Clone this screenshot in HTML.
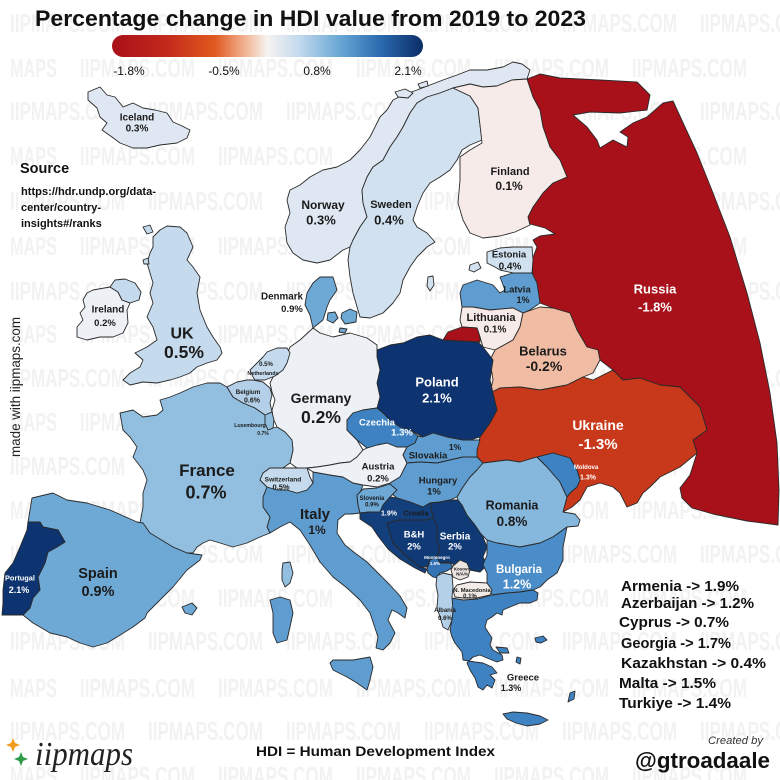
<!DOCTYPE html>
<html><head><meta charset="utf-8"><style>
html,body{margin:0;padding:0;background:#fff}
svg{display:block}
.l{font-family:"Liberation Sans",sans-serif;font-weight:bold;text-anchor:middle;fill:#1b1b1b}
.w{fill:#fff}
.wm{font-family:"Liberation Sans Narrow","Liberation Sans",sans-serif;font-weight:bold;font-size:26px;fill:#f2f2f2}
.c path,.c polygon{stroke:#2a2a2a;stroke-width:0.9;stroke-linejoin:round}
</style></head><body>
<svg width="780" height="780" viewBox="0 0 780 780" xmlns="http://www.w3.org/2000/svg">
<defs>
<linearGradient id="cb" x1="0" x2="1" y1="0" y2="0">
<stop offset="0" stop-color="#a8101a"/><stop offset="0.18" stop-color="#c42a1b"/><stop offset="0.33" stop-color="#e0591f"/><stop offset="0.43" stop-color="#f2b596"/><stop offset="0.5" stop-color="#f6f3f0"/><stop offset="0.6" stop-color="#c4daee"/><stop offset="0.73" stop-color="#6aa8d5"/><stop offset="0.86" stop-color="#2b6cb0"/><stop offset="1" stop-color="#0b2d67"/>
</linearGradient>
</defs>
<rect width="780" height="780" fill="#fff"/>
<!-- watermarks -->
<g class="wm">
<text x="10" y="32" textLength="115" lengthAdjust="spacingAndGlyphs">IIPMAPS.COM</text><text x="148" y="32" textLength="115" lengthAdjust="spacingAndGlyphs">IIPMAPS.COM</text><text x="286" y="32" textLength="115" lengthAdjust="spacingAndGlyphs">IIPMAPS.COM</text><text x="424" y="32" textLength="115" lengthAdjust="spacingAndGlyphs">IIPMAPS.COM</text><text x="562" y="32" textLength="115" lengthAdjust="spacingAndGlyphs">IIPMAPS.COM</text><text x="700" y="32" textLength="115" lengthAdjust="spacingAndGlyphs">IIPMAPS.COM</text>
<text x="10" y="77" textLength="47" lengthAdjust="spacingAndGlyphs">MAPS</text><text x="80" y="77" textLength="115" lengthAdjust="spacingAndGlyphs">IIPMAPS.COM</text><text x="218" y="77" textLength="115" lengthAdjust="spacingAndGlyphs">IIPMAPS.COM</text><text x="356" y="77" textLength="115" lengthAdjust="spacingAndGlyphs">IIPMAPS.COM</text><text x="494" y="77" textLength="115" lengthAdjust="spacingAndGlyphs">IIPMAPS.COM</text><text x="632" y="77" textLength="115" lengthAdjust="spacingAndGlyphs">IIPMAPS.COM</text>
<text x="10" y="120" textLength="115" lengthAdjust="spacingAndGlyphs">IIPMAPS.COM</text><text x="148" y="120" textLength="115" lengthAdjust="spacingAndGlyphs">IIPMAPS.COM</text><text x="286" y="120" textLength="115" lengthAdjust="spacingAndGlyphs">IIPMAPS.COM</text><text x="424" y="120" textLength="115" lengthAdjust="spacingAndGlyphs">IIPMAPS.COM</text><text x="562" y="120" textLength="115" lengthAdjust="spacingAndGlyphs">IIPMAPS.COM</text><text x="700" y="120" textLength="115" lengthAdjust="spacingAndGlyphs">IIPMAPS.COM</text>
<text x="10" y="165" textLength="47" lengthAdjust="spacingAndGlyphs">MAPS</text><text x="80" y="165" textLength="115" lengthAdjust="spacingAndGlyphs">IIPMAPS.COM</text><text x="218" y="165" textLength="115" lengthAdjust="spacingAndGlyphs">IIPMAPS.COM</text><text x="356" y="165" textLength="115" lengthAdjust="spacingAndGlyphs">IIPMAPS.COM</text><text x="494" y="165" textLength="115" lengthAdjust="spacingAndGlyphs">IIPMAPS.COM</text><text x="632" y="165" textLength="115" lengthAdjust="spacingAndGlyphs">IIPMAPS.COM</text>
<text x="10" y="210" textLength="115" lengthAdjust="spacingAndGlyphs">IIPMAPS.COM</text><text x="148" y="210" textLength="115" lengthAdjust="spacingAndGlyphs">IIPMAPS.COM</text><text x="286" y="210" textLength="115" lengthAdjust="spacingAndGlyphs">IIPMAPS.COM</text><text x="424" y="210" textLength="115" lengthAdjust="spacingAndGlyphs">IIPMAPS.COM</text><text x="562" y="210" textLength="115" lengthAdjust="spacingAndGlyphs">IIPMAPS.COM</text><text x="700" y="210" textLength="115" lengthAdjust="spacingAndGlyphs">IIPMAPS.COM</text>
<text x="10" y="255" textLength="47" lengthAdjust="spacingAndGlyphs">MAPS</text><text x="80" y="255" textLength="115" lengthAdjust="spacingAndGlyphs">IIPMAPS.COM</text><text x="218" y="255" textLength="115" lengthAdjust="spacingAndGlyphs">IIPMAPS.COM</text><text x="356" y="255" textLength="115" lengthAdjust="spacingAndGlyphs">IIPMAPS.COM</text><text x="494" y="255" textLength="115" lengthAdjust="spacingAndGlyphs">IIPMAPS.COM</text><text x="632" y="255" textLength="115" lengthAdjust="spacingAndGlyphs">IIPMAPS.COM</text>
<text x="10" y="300" textLength="115" lengthAdjust="spacingAndGlyphs">IIPMAPS.COM</text><text x="148" y="300" textLength="115" lengthAdjust="spacingAndGlyphs">IIPMAPS.COM</text><text x="286" y="300" textLength="115" lengthAdjust="spacingAndGlyphs">IIPMAPS.COM</text><text x="424" y="300" textLength="115" lengthAdjust="spacingAndGlyphs">IIPMAPS.COM</text><text x="562" y="300" textLength="115" lengthAdjust="spacingAndGlyphs">IIPMAPS.COM</text><text x="700" y="300" textLength="115" lengthAdjust="spacingAndGlyphs">IIPMAPS.COM</text>
<text x="10" y="343" textLength="47" lengthAdjust="spacingAndGlyphs">MAPS</text><text x="80" y="343" textLength="115" lengthAdjust="spacingAndGlyphs">IIPMAPS.COM</text><text x="218" y="343" textLength="115" lengthAdjust="spacingAndGlyphs">IIPMAPS.COM</text><text x="356" y="343" textLength="115" lengthAdjust="spacingAndGlyphs">IIPMAPS.COM</text><text x="494" y="343" textLength="115" lengthAdjust="spacingAndGlyphs">IIPMAPS.COM</text><text x="632" y="343" textLength="115" lengthAdjust="spacingAndGlyphs">IIPMAPS.COM</text>
<text x="10" y="387" textLength="115" lengthAdjust="spacingAndGlyphs">IIPMAPS.COM</text><text x="148" y="387" textLength="115" lengthAdjust="spacingAndGlyphs">IIPMAPS.COM</text><text x="286" y="387" textLength="115" lengthAdjust="spacingAndGlyphs">IIPMAPS.COM</text><text x="424" y="387" textLength="115" lengthAdjust="spacingAndGlyphs">IIPMAPS.COM</text><text x="562" y="387" textLength="115" lengthAdjust="spacingAndGlyphs">IIPMAPS.COM</text><text x="700" y="387" textLength="115" lengthAdjust="spacingAndGlyphs">IIPMAPS.COM</text>
<text x="10" y="431" textLength="47" lengthAdjust="spacingAndGlyphs">MAPS</text><text x="80" y="431" textLength="115" lengthAdjust="spacingAndGlyphs">IIPMAPS.COM</text><text x="218" y="431" textLength="115" lengthAdjust="spacingAndGlyphs">IIPMAPS.COM</text><text x="356" y="431" textLength="115" lengthAdjust="spacingAndGlyphs">IIPMAPS.COM</text><text x="494" y="431" textLength="115" lengthAdjust="spacingAndGlyphs">IIPMAPS.COM</text><text x="632" y="431" textLength="115" lengthAdjust="spacingAndGlyphs">IIPMAPS.COM</text>
<text x="10" y="475" textLength="115" lengthAdjust="spacingAndGlyphs">IIPMAPS.COM</text><text x="148" y="475" textLength="115" lengthAdjust="spacingAndGlyphs">IIPMAPS.COM</text><text x="286" y="475" textLength="115" lengthAdjust="spacingAndGlyphs">IIPMAPS.COM</text><text x="424" y="475" textLength="115" lengthAdjust="spacingAndGlyphs">IIPMAPS.COM</text><text x="562" y="475" textLength="115" lengthAdjust="spacingAndGlyphs">IIPMAPS.COM</text><text x="700" y="475" textLength="115" lengthAdjust="spacingAndGlyphs">IIPMAPS.COM</text>
<text x="10" y="519" textLength="47" lengthAdjust="spacingAndGlyphs">MAPS</text><text x="80" y="519" textLength="115" lengthAdjust="spacingAndGlyphs">IIPMAPS.COM</text><text x="218" y="519" textLength="115" lengthAdjust="spacingAndGlyphs">IIPMAPS.COM</text><text x="356" y="519" textLength="115" lengthAdjust="spacingAndGlyphs">IIPMAPS.COM</text><text x="494" y="519" textLength="115" lengthAdjust="spacingAndGlyphs">IIPMAPS.COM</text><text x="632" y="519" textLength="115" lengthAdjust="spacingAndGlyphs">IIPMAPS.COM</text>
<text x="10" y="563" textLength="115" lengthAdjust="spacingAndGlyphs">IIPMAPS.COM</text><text x="148" y="563" textLength="115" lengthAdjust="spacingAndGlyphs">IIPMAPS.COM</text><text x="286" y="563" textLength="115" lengthAdjust="spacingAndGlyphs">IIPMAPS.COM</text><text x="424" y="563" textLength="115" lengthAdjust="spacingAndGlyphs">IIPMAPS.COM</text><text x="562" y="563" textLength="115" lengthAdjust="spacingAndGlyphs">IIPMAPS.COM</text><text x="700" y="563" textLength="115" lengthAdjust="spacingAndGlyphs">IIPMAPS.COM</text>
<text x="10" y="607" textLength="47" lengthAdjust="spacingAndGlyphs">MAPS</text><text x="80" y="607" textLength="115" lengthAdjust="spacingAndGlyphs">IIPMAPS.COM</text><text x="218" y="607" textLength="115" lengthAdjust="spacingAndGlyphs">IIPMAPS.COM</text><text x="356" y="607" textLength="115" lengthAdjust="spacingAndGlyphs">IIPMAPS.COM</text><text x="494" y="607" textLength="115" lengthAdjust="spacingAndGlyphs">IIPMAPS.COM</text><text x="632" y="607" textLength="115" lengthAdjust="spacingAndGlyphs">IIPMAPS.COM</text>
<text x="10" y="650" textLength="115" lengthAdjust="spacingAndGlyphs">IIPMAPS.COM</text><text x="148" y="650" textLength="115" lengthAdjust="spacingAndGlyphs">IIPMAPS.COM</text><text x="286" y="650" textLength="115" lengthAdjust="spacingAndGlyphs">IIPMAPS.COM</text><text x="424" y="650" textLength="115" lengthAdjust="spacingAndGlyphs">IIPMAPS.COM</text><text x="562" y="650" textLength="115" lengthAdjust="spacingAndGlyphs">IIPMAPS.COM</text><text x="700" y="650" textLength="115" lengthAdjust="spacingAndGlyphs">IIPMAPS.COM</text>
<text x="10" y="697" textLength="47" lengthAdjust="spacingAndGlyphs">MAPS</text><text x="80" y="697" textLength="115" lengthAdjust="spacingAndGlyphs">IIPMAPS.COM</text><text x="218" y="697" textLength="115" lengthAdjust="spacingAndGlyphs">IIPMAPS.COM</text><text x="356" y="697" textLength="115" lengthAdjust="spacingAndGlyphs">IIPMAPS.COM</text><text x="494" y="697" textLength="115" lengthAdjust="spacingAndGlyphs">IIPMAPS.COM</text><text x="632" y="697" textLength="115" lengthAdjust="spacingAndGlyphs">IIPMAPS.COM</text>
<text x="10" y="740" textLength="115" lengthAdjust="spacingAndGlyphs">IIPMAPS.COM</text><text x="148" y="740" textLength="115" lengthAdjust="spacingAndGlyphs">IIPMAPS.COM</text><text x="286" y="740" textLength="115" lengthAdjust="spacingAndGlyphs">IIPMAPS.COM</text><text x="424" y="740" textLength="115" lengthAdjust="spacingAndGlyphs">IIPMAPS.COM</text><text x="562" y="740" textLength="115" lengthAdjust="spacingAndGlyphs">IIPMAPS.COM</text><text x="700" y="740" textLength="115" lengthAdjust="spacingAndGlyphs">IIPMAPS.COM</text>
<text x="10" y="785" textLength="47" lengthAdjust="spacingAndGlyphs">MAPS</text><text x="80" y="785" textLength="115" lengthAdjust="spacingAndGlyphs">IIPMAPS.COM</text><text x="218" y="785" textLength="115" lengthAdjust="spacingAndGlyphs">IIPMAPS.COM</text><text x="356" y="785" textLength="115" lengthAdjust="spacingAndGlyphs">IIPMAPS.COM</text><text x="494" y="785" textLength="115" lengthAdjust="spacingAndGlyphs">IIPMAPS.COM</text><text x="632" y="785" textLength="115" lengthAdjust="spacingAndGlyphs">IIPMAPS.COM</text>
</g>

<!-- title and colorbar -->
<text x="35" y="26" font-family="Liberation Sans, sans-serif" font-weight="bold" font-size="22" fill="#111" textLength="551" lengthAdjust="spacingAndGlyphs">Percentage change in HDI value from 2019 to 2023</text>
<rect x="112" y="35" width="311" height="22" rx="11" fill="url(#cb)"/>
<g font-family="Liberation Sans, sans-serif" font-size="12" fill="#111" text-anchor="middle">
<text x="129" y="75">-1.8%</text><text x="224" y="75">-0.5%</text><text x="317" y="75">0.8%</text><text x="408" y="75">2.1%</text>
</g>

<!-- map -->
<g class="c">
<!-- Russia -->
<path fill="#a8111a" d="M527,79 L540,74 L560,78 L600,80 L637,82 L650,95 L647,110 L620,113 L590,112 L573,115 L587,127 L597,140 L600,148 L613,140 L627,147 L628,137 L620,132 L633,123 L647,117 L663,103 L673,101 L697,153 L713,193 L730,237 L747,293 L760,343 L770,393 L777,443 L779,490 L778,525 L747,521 L713,514 L692,508 L682,498 L680,488 L690,475 L697,453 L693,440 L707,430 L700,407 L680,387 L660,385 L640,378 L623,380 L613,370 L600,360 L598,350 L587,347 L577,330 L570,313 L553,308 L540,303 L537,293 L533,277 L532,260 L537,247 L533,240 L540,236 L555,234 L545,228 L530,224 L528,217 L533,207 L543,193 L553,183 L567,177 L560,160 L550,147 L543,127 L540,110 L533,97 Z"/>
<!-- Iceland -->
<polygon fill="#dfe8f2" points="88,92 100,87 107,95 115,97 123,107 133,103 143,108 155,110 167,113 173,122 180,125 190,130 187,138 177,143 160,145 147,148 133,148 120,143 112,137 102,130 107,123 100,117 97,108 88,100"/>
<!-- Norway -->
<polygon fill="#dfe8f2" points="513,62 503,67 487,70 470,70 457,75 443,80 430,85 417,90 403,95 393,100 387,110 380,117 377,123 370,137 360,150 350,160 337,167 323,170 310,177 300,185 290,190 287,200 290,213 285,227 287,243 293,253 303,260 317,263 330,260 343,250 350,247 353,240 360,227 367,217 363,203 362,190 367,177 373,167 383,160 390,147 397,137 403,127 410,113 417,103 427,97 440,93 453,88 470,84 483,87 497,86 512,80 527,79 530,70 522,64"/>
<polygon fill="#dfe8f2" points="395,92 405,89 413,93 408,98 398,97"/>
<polygon fill="#dfe8f2" points="418,84 427,81 428,86 420,88"/>
<!-- Sweden -->
<polygon fill="#d1e1ef" points="453,88 470,96 478,108 480,125 482,140 470,145 462,150 457,160 450,170 440,177 430,183 423,193 417,207 413,220 417,227 427,233 435,242 427,247 417,257 410,267 403,280 400,293 393,303 383,313 370,318 360,317 353,293 350,277 348,260 350,247 353,240 360,227 367,217 363,203 362,190 367,177 373,167 383,160 390,147 397,137 403,127 410,113 417,103 427,97 440,93"/>
<polygon fill="#d1e1ef" points="428,277 433,276 434,285 430,291 427,286"/>
<!-- Finland -->
<polygon fill="#f6ebe8" points="453,88 470,84 483,87 497,86 512,80 527,79 533,97 540,110 543,127 550,147 560,160 567,177 553,183 543,193 533,207 528,217 530,225 515,232 500,236 483,238 470,233 463,220 458,203 460,180 460,157 470,150 482,143 480,125 478,108 470,96"/>
<!-- Estonia -->
<polygon fill="#d1e1ef" points="487,252 500,248 513,247 532,247 533,260 532,273 513,273 500,270 495,267 487,263"/>
<polygon fill="#d1e1ef" points="470,265 478,262 481,268 474,272 469,270"/>
<!-- Latvia -->
<polygon fill="#5f9dd0" points="462,307 460,293 463,285 477,280 493,285 500,293 505,290 500,277 513,273 532,273 537,283 540,303 530,310 523,313 513,308 490,310 473,307"/>
<!-- Lithuania -->
<polygon fill="#f6ebe8" points="462,307 473,307 490,310 513,308 523,313 520,327 513,340 495,350 483,347 480,337 477,328 462,327 460,320"/>
<!-- Belarus -->
<polygon fill="#f0bca3" points="523,313 540,307 553,308 570,313 577,330 587,347 598,350 600,360 593,373 583,377 567,385 540,390 520,387 500,388 490,393 493,380 490,360 495,350 513,340 520,327"/>
<!-- Ukraine -->
<polygon fill="#c8391b" points="490,393 500,388 520,387 540,390 567,385 583,377 593,380 613,370 623,380 640,378 660,385 680,387 700,407 707,430 693,440 697,453 680,467 660,477 650,487 643,493 637,503 627,507 620,493 613,487 600,483 587,487 580,500 572,507 563,512 567,497 570,493 577,487 580,480 577,470 570,458 553,453 537,457 520,462 507,460 483,463 477,457 477,450 480,437 490,423 497,410"/>
<!-- Poland -->
<polygon fill="#0d3470" points="377,350 390,345 403,343 417,337 430,335 443,340 478,342 483,347 493,360 490,380 493,393 497,410 490,423 480,437 470,440 463,440 447,437 433,433 423,437 410,430 400,427 390,420 383,413 377,408 380,397 377,383 380,370 377,357"/>
<!-- Kaliningrad -->
<polygon fill="#a8111a" points="443,340 448,332 462,327 477,328 480,337 480,342"/>
<!-- Germany -->
<polygon fill="#edf0f5" points="290,347 300,340 313,328 320,333 333,337 350,333 367,338 377,345 377,357 380,370 377,383 380,397 377,408 363,410 353,413 347,420 347,430 357,440 363,450 357,457 350,462 340,463 330,465 317,467 307,468 297,468 290,463 293,450 292,440 285,432 277,427 273,418 272,410 275,400 272,392 270,383 275,373 283,363 287,355"/>
<!-- Denmark -->
<polygon fill="#6ea8d5" points="305,305 307,293 313,283 320,277 333,277 337,290 330,300 327,307 323,320 313,328 310,315"/>
<polygon fill="#6ea8d5" points="328,313 335,312 338,318 333,323 327,320"/>
<polygon fill="#6ea8d5" points="342,313 350,309 357,312 356,322 345,324 341,318"/>
<polygon fill="#6ea8d5" points="340,328 347,329 345,333 339,332"/>
<!-- Italy -->
<polygon fill="#5f9dd0" points="263,497 267,487 277,490 287,490 297,493 307,490 313,483 313,472 330,475 343,477 353,483 363,485 360,493 357,497 358,505 360,513 352,514 345,514 338,520 337,533 345,545 355,553 367,562 380,575 390,585 400,596 407,608 405,618 398,613 392,610 388,620 395,633 390,643 383,650 376,648 378,637 374,625 370,613 360,600 347,588 333,577 320,562 310,545 300,530 290,522 280,527 270,533 267,527 270,517 263,507"/>
<polygon fill="#5f9dd0" points="270,600 280,597 290,600 293,613 290,627 287,640 277,643 273,633 273,613"/>
<polygon fill="#5f9dd0" points="330,663 333,660 353,660 370,657 373,667 370,680 367,690 357,683 347,677 333,670"/>
<!-- France -->
<polygon fill="#92bfe0" points="120,413 133,410 143,417 157,415 163,410 160,400 170,397 180,393 193,387 207,383 220,383 227,387 233,397 243,403 255,408 265,415 265,423 268,430 273,428 277,427 285,432 292,440 293,450 290,463 283,468 270,468 263,473 260,480 267,487 263,497 263,507 270,517 267,527 270,533 260,537 247,543 233,547 220,543 210,540 203,543 197,547 193,553 187,553 173,547 157,540 143,533 137,527 140,523 143,507 143,493 147,480 143,470 133,457 137,447 130,437 123,430"/>
<polygon fill="#92bfe0" points="282,570 283,563 290,562 293,573 290,583 285,587 282,580"/>
<!-- Spain -->
<polygon fill="#6ea8d5" points="32,498 53,493 67,500 87,503 110,510 137,522 143,523 150,533 173,547 187,553 202,555 200,560 187,570 173,587 160,600 147,613 145,618 133,627 117,637 107,643 93,647 80,643 67,637 50,633 40,627 33,623 23,615 30,608 33,598 40,590 38,577 45,563 48,552 57,547 65,542 58,530 43,527 40,522 28,522 30,510"/>
<polygon fill="#6ea8d5" points="182,607 192,603 197,608 192,615 185,613"/>
<!-- Portugal -->
<polygon fill="#0d3470" points="28,522 40,522 43,527 58,530 65,542 57,547 48,552 45,563 38,577 40,590 33,598 30,608 23,615 2,615 3,603 3,590 5,573 13,563 20,547 27,530"/>
<!-- Netherlands -->
<polygon fill="#c5daec" points="253,377 250,370 257,363 263,357 267,352 277,348 287,348 290,353 287,363 283,370 275,376 265,380 255,380"/>
<!-- Belgium -->
<polygon fill="#b4d0e8" points="227,387 237,382 247,380 253,380 263,382 270,388 272,395 270,403 272,412 265,415 255,408 243,403 233,397"/>
<!-- Luxembourg -->
<polygon fill="#92bfe0" points="265,415 272,412 274,420 273,428 268,430 265,423"/>
<!-- Switzerland -->
<polygon fill="#c5daec" points="263,473 270,468 283,468 297,468 307,468 310,477 313,483 307,490 297,493 287,490 277,490 267,487 260,480"/>
<!-- Austria -->
<polygon fill="#edf0f5" points="357,457 363,450 367,448 377,445 387,443 397,447 407,447 403,455 407,463 405,470 400,477 390,483 377,487 363,485 353,483 343,477 330,475 313,472 307,468 317,467 330,465 340,463 350,462"/>
<!-- Czechia -->
<polygon fill="#3f82c1" points="347,420 353,413 363,410 377,408 383,413 390,420 400,427 410,430 418,436 415,443 407,447 397,447 387,443 377,445 367,448 357,440 347,430"/>
<!-- Slovakia -->
<polygon fill="#5f9dd0" points="418,436 423,437 433,433 447,437 463,440 480,440 477,450 477,457 463,457 450,460 437,463 420,462 407,463 403,455 407,447 415,443"/>
<!-- Hungary -->
<polygon fill="#5f9dd0" points="405,467 407,463 420,462 437,463 450,460 463,457 477,457 483,463 477,470 470,477 463,487 457,497 450,500 440,502 430,503 423,507 410,502 397,498 387,490 390,483 400,477"/>
<!-- Romania -->
<polygon fill="#86b7dc" points="483,463 507,460 520,462 537,457 540,460 547,467 560,482 567,497 563,512 575,514 580,520 578,526 567,527 553,537 540,543 520,547 497,543 487,540 480,533 473,527 467,517 460,507 457,497 463,487 470,477 477,470"/>
<!-- Moldova -->
<polygon fill="#3f82c1" points="537,457 553,453 570,458 577,470 580,480 577,487 570,493 567,497 560,482 547,467 540,460"/>
<!-- Slovenia -->
<polygon fill="#6ea8d5" points="357,495 363,489 377,488 390,484 397,490 390,497 383,505 380,512 370,512 360,513 358,505"/>
<!-- Croatia -->
<polygon fill="#133f7c" points="390,497 397,498 410,502 423,507 430,503 433,513 433,517 427,520 413,520 400,520 387,523 393,543 407,557 420,567 427,569 425,573 415,568 400,559 388,549 378,536 372,527 366,523 360,519 360,513 370,512 380,512 383,505"/>
<!-- B&H -->
<polygon fill="#103a76" points="387,523 400,520 413,520 427,520 433,517 437,527 437,540 440,550 437,557 430,560 427,567 420,567 407,557 393,543"/>
<!-- Serbia -->
<polygon fill="#103a76" points="430,503 440,502 450,500 458,500 462,505 467,515 475,525 483,537 487,547 483,557 487,565 480,572 470,570 467,567 462,563 455,565 448,562 440,563 437,557 440,550 437,540 437,527 433,517"/>
<!-- Montenegro -->
<polygon fill="#3473b4" points="427,569 430,560 437,557 440,563 450,563 453,567 447,571 440,573 437,578 433,577 428,573"/>
<!-- Kosovo -->
<polygon fill="#ebe4e1" points="453,566 460,560 467,563 470,570 468,577 460,580 453,577 451,570"/>
<!-- Bulgaria -->
<polygon fill="#4a8dc8" points="487,540 497,543 520,547 540,543 553,537 567,527 563,547 563,560 557,573 547,580 540,587 533,590 520,592 507,593 492,595 487,583 487,573 483,565 487,555 487,547"/>
<!-- Greece -->
<polygon fill="#3f82c1" points="452,598 463,600 478,599 492,595 507,593 520,592 533,590 538,593 537,600 530,603 520,603 510,607 503,610 502,615 497,613 492,617 487,620 485,627 488,632 492,638 490,645 493,650 502,655 503,660 497,662 487,658 480,655 473,657 470,660 467,663 470,670 475,678 478,687 483,690 487,685 492,688 495,680 490,675 497,673 492,667 483,663 475,662 463,660 462,652 455,643 452,637 450,630 452,620 453,610"/>
<polygon fill="#3f82c1" points="496,647 507,648 509,653 500,653"/>
<polygon fill="#3f82c1" points="535,638 543,636 547,640 541,643 536,642"/>
<polygon fill="#3f82c1" points="517,657 521,658 520,664 516,662"/>
<polygon fill="#3f82c1" points="570,693 575,691 574,699 568,702"/>
<polygon fill="#3f82c1" points="503,714 513,712 527,713 540,716 548,720 540,724 527,726 516,723 507,719"/>
<!-- Albania -->
<polygon fill="#b4d0e8" points="437,576 443,573 452,575 453,587 452,597 453,610 452,620 448,630 443,627 440,617 437,608 438,595 436,585"/>
<!-- N. Macedonia -->
<polygon fill="#f3ebe7" points="453,590 457,585 470,582 487,583 492,590 490,595 477,598 463,598 455,597"/>
<!-- UK -->
<polygon fill="#c5daec" points="160,230 167,226 180,227 187,233 193,247 187,260 193,267 200,277 197,293 200,310 207,327 213,337 220,347 222,353 217,360 207,363 197,367 190,373 180,377 170,380 157,383 143,382 130,385 123,380 130,373 140,367 143,360 135,353 147,347 157,340 153,327 147,317 150,310 153,303 150,293 153,283 150,273 147,263 150,253 153,247 153,237"/>
<polygon fill="#c5daec" points="143,227 150,225 153,232 147,234"/>
<polygon fill="#c5daec" points="143,260 148,258 149,264 144,264"/>
<!-- Ireland -->
<polygon fill="#edf0f5" points="87,293 93,290 110,287 118,292 122,300 130,303 127,310 128,323 123,333 113,337 100,337 87,340 77,337 77,327 83,320 80,313 85,307 83,300"/>
<polygon fill="#c5daec" points="110,287 115,280 125,279 135,283 141,292 139,300 130,303 122,300 118,292"/>
</g>

<!-- country labels -->
<g class="l">
<text x="137" y="120.5" font-size="10">Iceland</text><text x="137" y="131.5" font-size="10">0.3%</text>
<text x="323" y="209" font-size="12">Norway</text><text x="321" y="224.5" font-size="13">0.3%</text>
<text x="391" y="208" font-size="11">Sweden</text><text x="389" y="224.5" font-size="13">0.4%</text>
<text x="510" y="175" font-size="11">Finland</text><text x="509" y="190" font-size="12">0.1%</text>
<text x="509" y="257.5" font-size="9.5">Estonia</text><text x="510" y="269.5" font-size="10">0.4%</text>
<text x="517" y="292.5" font-size="9.5">Latvia</text><text x="523" y="303" font-size="9">1%</text>
<text x="491" y="321" font-size="11">Lithuania</text><text x="495" y="332.5" font-size="10">0.1%</text>
<text x="543" y="355.5" font-size="13">Belarus</text><text x="544" y="371" font-size="14">-0.2%</text>
<text x="655" y="293.5" font-size="13" class="l w">Russia</text><text x="655" y="311.5" font-size="13" class="l w">-1.8%</text>
<text x="437" y="386.5" font-size="13" class="l w">Poland</text><text x="437" y="402.5" font-size="13" class="l w">2.1%</text>
<text x="598" y="430" font-size="14" class="l w">Ukraine</text><text x="598" y="449" font-size="15" class="l w">-1.3%</text>
<text x="586" y="469" font-size="6" class="l w">Moldova</text><text x="588" y="479.5" font-size="7" class="l w">1.3%</text>
<text x="512" y="509.5" font-size="12.5">Romania</text><text x="512" y="526" font-size="13.5">0.8%</text>
<text x="519" y="573" font-size="11.5" class="l w">Bulgaria</text><text x="517" y="588.5" font-size="12.5" class="l w">1.2%</text>
<text x="523" y="680.5" font-size="9.5">Greece</text><text x="511" y="691" font-size="9">1.3%</text>
<text x="438" y="483.5" font-size="9.5">Hungary</text><text x="434" y="494.5" font-size="9.5">1%</text>
<text x="428" y="458.5" font-size="9.5">Slovakia</text><text x="455" y="450" font-size="8.5">1%</text>
<text x="377" y="425.5" font-size="9.5" class="l w">Czechia</text><text x="402" y="435.5" font-size="9.5" class="l w">1.3%</text>
<text x="378" y="469.5" font-size="9.5">Austria</text><text x="378" y="481.5" font-size="9.5">0.2%</text>
<text x="321" y="403" font-size="14">Germany</text><text x="321" y="423" font-size="17.5">0.2%</text>
<text x="315" y="519" font-size="15">Italy</text><text x="317" y="534" font-size="12">1%</text>
<text x="283" y="481.5" font-size="6.6">Switzerland</text><text x="281" y="489.5" font-size="7.5">0.5%</text>
<text x="372" y="500" font-size="6">Slovenia</text><text x="372" y="506.5" font-size="6">0.9%</text>
<text x="389" y="515.5" font-size="7" class="l w">1.9%</text><text x="416" y="515.5" font-size="7.3">Croatia</text>
<text x="414" y="537.5" font-size="9.5" class="l w">B&amp;H</text><text x="414" y="549.5" font-size="9.5" class="l w">2%</text>
<text x="455" y="539.5" font-size="10" class="l w">Serbia</text><text x="455" y="549.5" font-size="9.5" class="l w">2%</text>
<text x="437" y="559" font-size="4.5" class="l w">Montenegro</text><text x="435" y="565" font-size="4.5" class="l w">1.5%</text>
<text x="462" y="570.5" font-size="4.5">Kosovo</text><text x="462" y="575.5" font-size="4.5">N/A%</text>
<text x="472" y="592" font-size="5.8">N. Macedonia</text><text x="470" y="598" font-size="6">0.1%</text>
<text x="445" y="612" font-size="6">Albania</text><text x="445" y="620" font-size="6">0.6%</text>
<text x="207" y="476" font-size="17">France</text><text x="206" y="498.5" font-size="18">0.7%</text>
<text x="98" y="578" font-size="14.5">Spain</text><text x="98" y="596" font-size="14.5">0.9%</text>
<text x="20" y="580.5" font-size="7.4" class="l w">Portugal</text><text x="19" y="593" font-size="9" class="l w">2.1%</text>
<text x="248" y="394" font-size="6.2">Belgium</text><text x="252" y="402.5" font-size="7">0.6%</text>
<text x="266" y="366" font-size="6">0.5%</text><text x="263" y="375" font-size="5.4">Netherlands</text>
<text x="250" y="427" font-size="5.2">Luxembourg</text><text x="263" y="435" font-size="5">0.7%</text>
<text x="182" y="338.5" font-size="16">UK</text><text x="184" y="358" font-size="17.5">0.5%</text>
<text x="108" y="312.5" font-size="10">Ireland</text><text x="105" y="326" font-size="9.5">0.2%</text>
<text x="282" y="299.5" font-size="9.8">Denmark</text><text x="292" y="312" font-size="9.5">0.9%</text>
</g>

<!-- source -->
<g font-family="Liberation Sans, sans-serif" font-weight="bold" fill="#111">
<text x="20" y="173" font-size="14.5">Source</text>
<text x="21" y="195" font-size="11" textLength="135" lengthAdjust="spacingAndGlyphs">https://hdr.undp.org/data-</text>
<text x="21" y="211" font-size="11">center/country-</text>
<text x="21" y="227" font-size="11">insights#/ranks</text>
</g>

<!-- vertical credit -->
<text transform="translate(20,457) rotate(-90)" x="0" y="0" font-family="Liberation Sans, sans-serif" font-size="13.5" fill="#222" textLength="140" lengthAdjust="spacingAndGlyphs">made with iipmaps.com</text>

<!-- legend -->
<g font-family="Liberation Sans, sans-serif" font-weight="bold" font-size="15" fill="#111">
<text x="621" y="591" textLength="118" lengthAdjust="spacingAndGlyphs">Armenia -&gt; 1.9%</text>
<text x="621" y="608" textLength="133" lengthAdjust="spacingAndGlyphs">Azerbaijan -&gt; 1.2%</text>
<text x="619" y="627" textLength="110" lengthAdjust="spacingAndGlyphs">Cyprus -&gt; 0.7%</text>
<text x="621" y="648" textLength="110" lengthAdjust="spacingAndGlyphs">Georgia -&gt; 1.7%</text>
<text x="621" y="668" textLength="145" lengthAdjust="spacingAndGlyphs">Kazakhstan -&gt; 0.4%</text>
<text x="619" y="688" textLength="97" lengthAdjust="spacingAndGlyphs">Malta -&gt; 1.5%</text>
<text x="619" y="708" textLength="112" lengthAdjust="spacingAndGlyphs">Turkiye -&gt; 1.4%</text>
</g>

<!-- footer -->
<text x="256" y="756" font-family="Liberation Sans, sans-serif" font-weight="bold" font-size="14" fill="#111" textLength="239" lengthAdjust="spacingAndGlyphs">HDI = Human Development Index</text>
<text x="708" y="744" font-family="Liberation Sans, sans-serif" font-style="italic" font-size="11" fill="#333" textLength="55" lengthAdjust="spacingAndGlyphs">Created by</text>
<text x="635" y="768" font-family="Liberation Sans, sans-serif" font-weight="bold" font-size="22" fill="#111" textLength="135" lengthAdjust="spacingAndGlyphs">@gtroadaale</text>

<!-- logo -->
<path d="M13,738 L15,743 L20,745 L15,747 L13,752 L11,747 L6,745 L11,743 Z" fill="#f39a1e"/>
<path d="M21,752 L23,757 L28,759 L23,761 L21,766 L19,761 L14,759 L19,757 Z" fill="#2f9a4a"/>
<text x="35" y="765" font-family="Liberation Serif, serif" font-style="italic" font-size="34" fill="#222" textLength="98" lengthAdjust="spacingAndGlyphs">iipmaps</text>
</svg>
</body></html>
